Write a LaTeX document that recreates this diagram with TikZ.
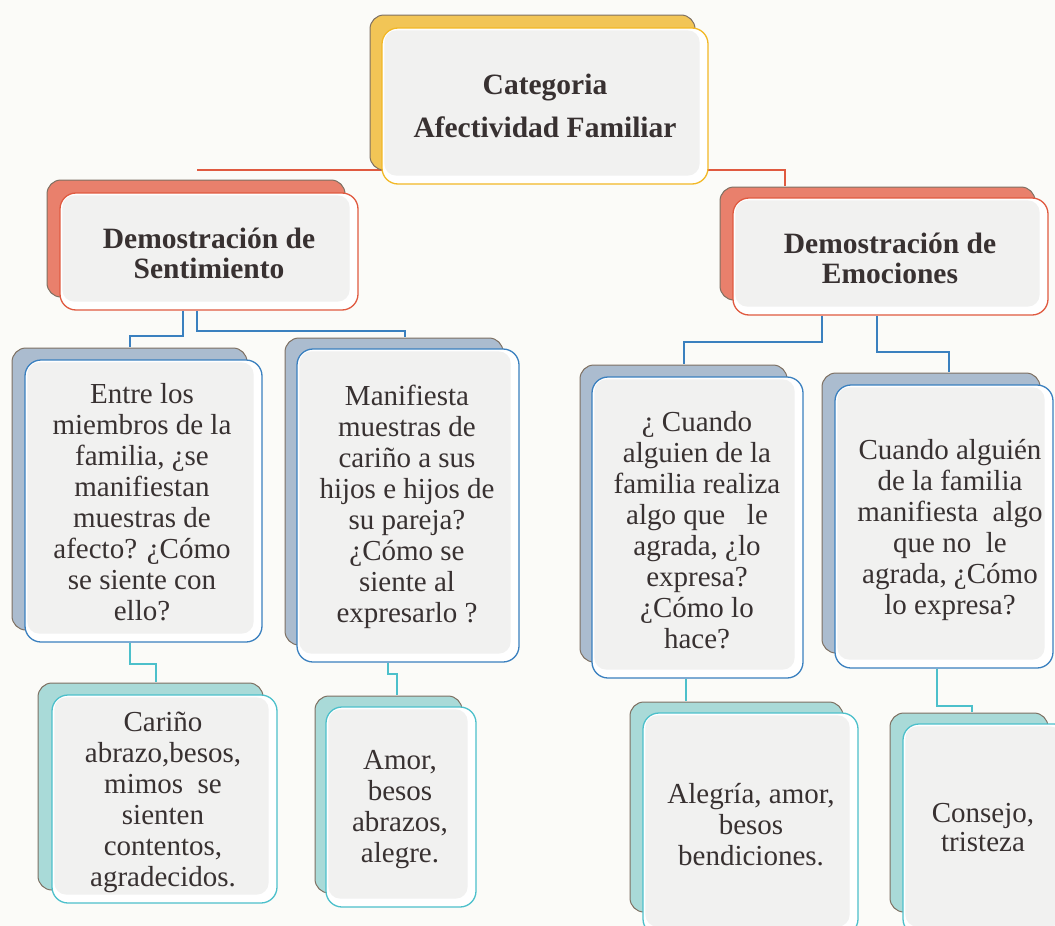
\documentclass[tikz,border=0pt]{standalone}
\usepackage{fontspec}
\setmainfont{Liberation Serif}
\usetikzlibrary{calc}
\definecolor{bgc}{HTML}{FBFBF8}
\definecolor{textc}{HTML}{383131}
\definecolor{innerc}{HTML}{F1F1F0}
\definecolor{backline}{HTML}{7E7062}
\definecolor{yback}{HTML}{F2C556}
\definecolor{yline}{HTML}{F2B826}
\definecolor{rback}{HTML}{E9806C}
\definecolor{rline}{HTML}{E05A40}
\definecolor{bback}{HTML}{ABBCCF}
\definecolor{bline}{HTML}{3A80BF}
\definecolor{tback}{HTML}{A9DAD8}
\definecolor{tline}{HTML}{4CC0CB}
\pgfdeclarelayer{bgl}
\pgfdeclarelayer{conn}
\pgfsetlayers{bgl,conn,main}
\tikzset{
  backbox/.style={fill=#1, draw=backline, line width=1pt, rounded corners=14pt},
  fbox/.style={draw=#1, line width=1.3pt, fill=white, rounded corners=16pt, inner sep=0pt},
  innerfill/.style={fill=innerc, rounded corners=12pt},
  txt/.style={align=center, text=textc, inner sep=0pt, font=\fontsize{29}{31}\selectfont},
  ttl/.style={align=center, text=textc, inner sep=0pt, font=\bfseries\fontsize{29.5}{30}\selectfont},
  redc/.style={draw=rline, line width=1.8pt},
  bluec/.style={draw=bline, line width=1.8pt},
  tealc/.style={draw=tline, line width=1.8pt}
}
\begin{document}
\begin{tikzpicture}[x=1pt,y=-1pt]
\useasboundingbox (0,0) rectangle (1055,926);
\clip (0,0) rectangle (1055,926);
\begin{pgfonlayer}{bgl}
\fill[bgc] (0,0) rectangle (1055,926);
\end{pgfonlayer}

% ---- top box
\path[backbox=yback] (370,15) rectangle (695,170);
\node[fbox=yline, minimum width=326pt, minimum height=156pt] (top) at (545,106) {};
\fill[innerfill] ($(top.north west)+(3,3)$) rectangle ($(top.south east)+(-9,-9)$);
\node[txt, font=\bfseries\fontsize{29.5}{43}\selectfont] (ttop) at (545,106) {Categoria\\Afectividad Familiar};

% ---- red boxes
\path[backbox=rback] (47,180) rectangle (345,297);
\node[fbox=rline, minimum width=298pt, minimum height=117pt] (redL) at (209,251.5) {};
\fill[innerfill] ($(redL.north west)+(3,3)$) rectangle ($(redL.south east)+(-9,-9)$);
\node[ttl] (tredL) at (209,253) {Demostración de\\Sentimiento};

\path[backbox=rback] (720,187) rectangle (1035,300);
\node[fbox=rline, minimum width=315pt, minimum height=117pt] (redR) at (890.5,256.5) {};
\fill[innerfill] ($(redR.north west)+(3,3)$) rectangle ($(redR.south east)+(-9,-9)$);
\node[ttl] (tredR) at (890,258) {Demostración de\\Emociones};

% ---- blue boxes
\path[backbox=bback] (12,348) rectangle (247,630);
\node[fbox=bline, minimum width=237pt, minimum height=282pt] (A) at (143.5,501) {};
\fill[innerfill] ($(A.north west)+(3,3)$) rectangle ($(A.south east)+(-9,-9)$);
\node[txt] (tA) at (142,502) {Entre los\\miembros de la\\familia, ¿se\\manifiestan\\muestras de\\afecto? ¿Cómo\\se siente con\\ello?};

\path[backbox=bback] (285,338) rectangle (503,645);
\node[fbox=bline, minimum width=222pt, minimum height=313pt] (B) at (408,505.5) {};
\fill[innerfill] ($(B.north west)+(3,3)$) rectangle ($(B.south east)+(-9,-9)$);
\node[txt] (tB) at (407,507) {Manifiesta\\muestras de\\cariño a sus\\hijos e hijos de\\su pareja?\\¿Cómo se\\siente al\\expresarlo ?};

\path[backbox=bback] (580,365) rectangle (787,662);
\node[fbox=bline, minimum width=211pt, minimum height=301pt] (C) at (697.5,527.5) {};
\fill[innerfill] ($(C.north west)+(3,3)$) rectangle ($(C.south east)+(-9,-9)$);
\node[txt] (tC) at (697,530) {¿ Cuando\\alguien de la\\familia realiza\\algo que\ \ \ le\\agrada, ¿lo\\expresa?\\¿Cómo lo\\hace?};

\path[backbox=bback] (822,373) rectangle (1040,653);
\node[fbox=bline, minimum width=218pt, minimum height=283pt] (D) at (944,526.5) {};
\fill[innerfill] ($(D.north west)+(3,3)$) rectangle ($(D.south east)+(-9,-9)$);
\node[txt] (tD) at (950,530) {Cuando alguién\\de la familia\\manifiesta\ \ algo\\que no\ \ le\\agrada, ¿Cómo\\lo expresa?};

% ---- teal boxes
\path[backbox=tback] (38,683) rectangle (263,890);
\node[fbox=tline, minimum width=225pt, minimum height=208pt] (E) at (164.5,799) {};
\fill[innerfill] ($(E.north west)+(3,3)$) rectangle ($(E.south east)+(-9,-9)$);
\node[txt] (tE) at (163,802) {Cariño\\abrazo,besos,\\mimos\ \ se\\sienten\\contentos,\\agradecidos.};

\path[backbox=tback] (315,696) rectangle (462,893);
\node[fbox=tline, minimum width=150pt, minimum height=200pt] (F) at (401,807) {};
\fill[innerfill] ($(F.north west)+(3,3)$) rectangle ($(F.south east)+(-9,-9)$);
\node[txt] (tF) at (400,810) {Amor,\\besos\\abrazos,\\alegre.};

\path[backbox=tback] (630,702) rectangle (843,912);
\node[fbox=tline, minimum width=215pt, minimum height=222pt] (G) at (750.5,824) {};
\fill[innerfill] ($(G.north west)+(3,3)$) rectangle ($(G.south east)+(-9,-9)$);
\node[txt] (tG) at (751,825) {Alegría, amor,\\besos\\bendiciones.};

\path[backbox=tback] (890,713) rectangle (1048,912);
\node[fbox=tline, minimum width=167pt, minimum height=211pt] (H) at (986.5,829.5) {};
\fill[innerfill] ($(H.north west)+(3,3)$) rectangle ($(H.south east)+(-9,-9)$);
\node[txt, font=\fontsize{29}{29}\selectfont] (tH) at (983,828) {Consejo,\\tristeza};

% ---- connectors
\begin{pgfonlayer}{conn}
\draw[redc] ($(redL.north)+(-12,-22)$) -- ($(redR.north)+(-105.5,-27)$) -- ($(redR.north)+(-105.5,-11)$);
\draw[bluec] ($(redL.south)+(-26,0)$) |- ($(A.north)+(-13.5,-23)$) -- ($(A.north)+(-13.5,-12)$);
\draw[bluec] ($(redL.south)+(-12,0)$) |- ($(B.north)+(-3,-17)$) -- ($(B.north)+(-3,-11)$);
\draw[bluec] ($(redR.south)+(-68.5,0)$) |- ($(C.north)+(-13.5,-34)$) -- ($(C.north)+(-13.5,-12)$);
\draw[bluec] ($(redR.south)+(-13.5,0)$) |- ($(D.north)+(5,-32)$) -- ($(D.north)+(5,-12)$);
\draw[tealc] ($(A.south)+(-13.5,0)$) |- ($(E.north)+(-8.5,-30)$) -- ($(E.north)+(-8.5,-12)$);
\draw[tealc] ($(B.south)+(-20,0)$) |- ($(F.north)+(-4,-32)$) -- ($(F.north)+(-4,-11)$);
\draw[tealc] ($(C.south)+(-11.5,0)$) -- ($(G.north)+(-64.5,-11)$);
\draw[tealc] ($(D.south)+(-7,0)$) |- ($(H.north)+(-14.5,-17)$) -- ($(H.north)+(-14.5,-11)$);
\end{pgfonlayer}
\end{tikzpicture}
\end{document}
